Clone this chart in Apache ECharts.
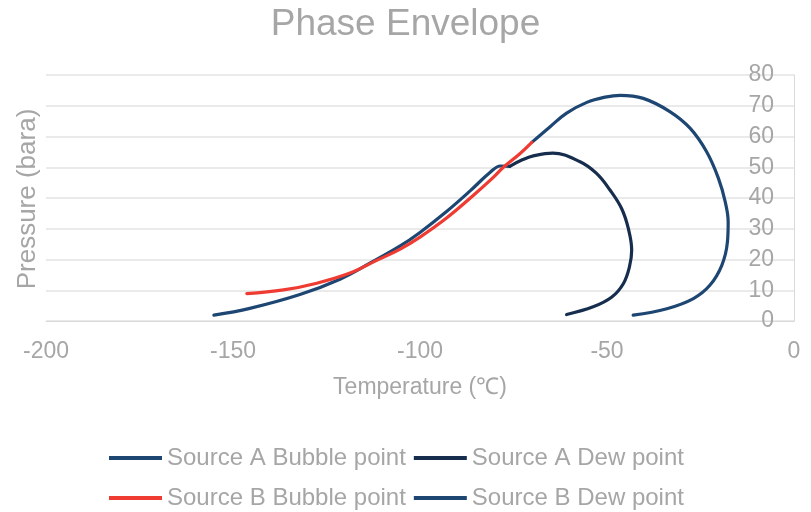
<!DOCTYPE html>
<html>
<head>
<meta charset="utf-8">
<title>Phase Envelope</title>
<script src="https://cdn.jsdelivr.net/npm/echarts@6/dist/echarts.min.js"></script>
<style>
  html, body { margin: 0; padding: 0; background: #fff; }
  #phase-chart-1 { width: 811px; height: 512px; }
</style>
</head>
<body>
<div id="phase-chart-1"></div>
<script>
// Data: [temperature °C, pressure bara]
const sourceABubble = [
    [-155.1, 1.9], [-145.5, 4.1], [-132.1, 8.6], [-121.4, 13.6], [-113.4, 18.8],
    [-105.3, 24.4], [-100, 28.8], [-92.9, 35.6], [-86.6, 42.3], [-81.3, 48.3],
    [-78.5, 50.4], [-76, 50.3]
];
const sourceADew = [
    [-76, 50.3], [-72.5, 52.5], [-69.7, 53.7], [-64.5, 54.6], [-57.2, 51.8],
    [-52.8, 48.0], [-49.2, 42.6], [-46.1, 36.6], [-44.3, 30.1], [-43.4, 23.0],
    [-44.0, 17.6], [-45.6, 12.2], [-48.7, 7.8], [-53.7, 4.6], [-60.8, 2.1]
];
const sourceBBubble = [
    [-146.3, 8.9], [-136.5, 10.1], [-127.6, 12.3], [-118.7, 15.6], [-111.6, 19.7],
    [-105.3, 23.4], [-100, 27.3], [-92.9, 33.5], [-85.7, 40.9], [-80.4, 46.7],
    [-77.7, 50.0], [-73.3, 54.4], [-70.1, 58.1]
];
const sourceBDew = [
    [-70.1, 58.1], [-65.2, 63.2], [-60.8, 67.6], [-55.4, 71.1], [-50.5, 72.8],
    [-46.5, 73.4], [-40.3, 72.4], [-33.2, 68.1], [-27.8, 62.7], [-23.4, 55.1],
    [-20.2, 46.4], [-18.4, 38.8], [-17.6, 32.2], [-17.8, 25.7], [-19.3, 18.1],
    [-22.5, 11.6], [-26.9, 7.3], [-34.0, 4.0], [-43.0, 1.9]
];

const seriesNames = ['Source A Bubble point', 'Source A Dew point', 'Source B Bubble point', 'Source B Dew point'];
const seriesColors = ['#1d4673', '#162d4e', '#ef3b32', '#1d4673'];
const seriesData = [sourceABubble, sourceADew, sourceBBubble, sourceBDew];

const xMin = -200, xMax = 0, xStep = 50;
const yMin = 0, yMax = 80, yStep = 10;

const grey = '#a6a6a6';
const font = "'Liberation Sans', Arial, sans-serif";

const chart = echarts.init(document.getElementById('phase-chart-1'));

// legend: two rows, same look
const legendRow = (names, top) => ({
    data: names,
    left: 109, top: top,
    padding: 0,
    icon: 'rect', itemWidth: 53, itemHeight: 4, itemGap: 8,
    textStyle: { color: grey, fontSize: 24, fontFamily: font }
});

chart.setOption({
    animation: false,
    backgroundColor: '#fff',
    textStyle: { fontFamily: font },
    title: {
        text: 'Phase Envelope',
        left: 'center',
        top: 1,
        textStyle: { color: grey, fontSize: 37, fontWeight: 'normal', fontFamily: font }
    },
    grid: { left: 46, right: 17, top: 75, bottom: 191, containLabel: false },
    legend: [
        legendRow(seriesNames.slice(0, 2), 446),
        legendRow(seriesNames.slice(2, 4), 486)
    ],
    xAxis: {
        type: 'value',
        min: xMin, max: xMax, interval: xStep,
        name: 'Temperature (℃)',
        nameLocation: 'middle',
        nameGap: 55,
        nameTextStyle: { color: grey, fontSize: 23, fontFamily: font },
        axisLine: { show: true, onZero: false, lineStyle: { color: '#d9d9d9', width: 1 } },
        axisTick: { show: false },
        axisLabel: { color: grey, fontSize: 23, margin: 19, fontFamily: font },
        splitLine: { show: false }
    },
    yAxis: {
        type: 'value',
        position: 'right',
        min: yMin, max: yMax, interval: yStep,
        axisLine: { show: true, lineStyle: { color: '#d9d9d9', width: 1 } },
        axisTick: { show: false },
        axisLabel: { inside: true, color: grey, fontSize: 23, margin: 20, fontFamily: font },
        splitLine: { show: true, lineStyle: { color: '#e3e3e3', width: 1.5 } }
    },
    graphic: [
        {
            type: 'text',
            x: 28, y: 199,
            rotation: Math.PI / 2,
            style: {
                text: 'Pressure (bara)',
                fill: grey,
                font: '26px ' + font,
                align: 'center',
                verticalAlign: 'middle'
            }
        }
    ],
    series: seriesNames.map((name, i) => ({
        name: name,
        type: 'line',
        data: seriesData[i],
        smooth: 0.4,
        showSymbol: false,
        symbol: 'none',
        color: seriesColors[i],
        lineStyle: { color: seriesColors[i], width: 3.2, cap: 'round' },
        z: i === 2 ? 3 : 2
    }))
});

window.addEventListener('resize', () => chart.resize());
</script>
</body>
</html>
